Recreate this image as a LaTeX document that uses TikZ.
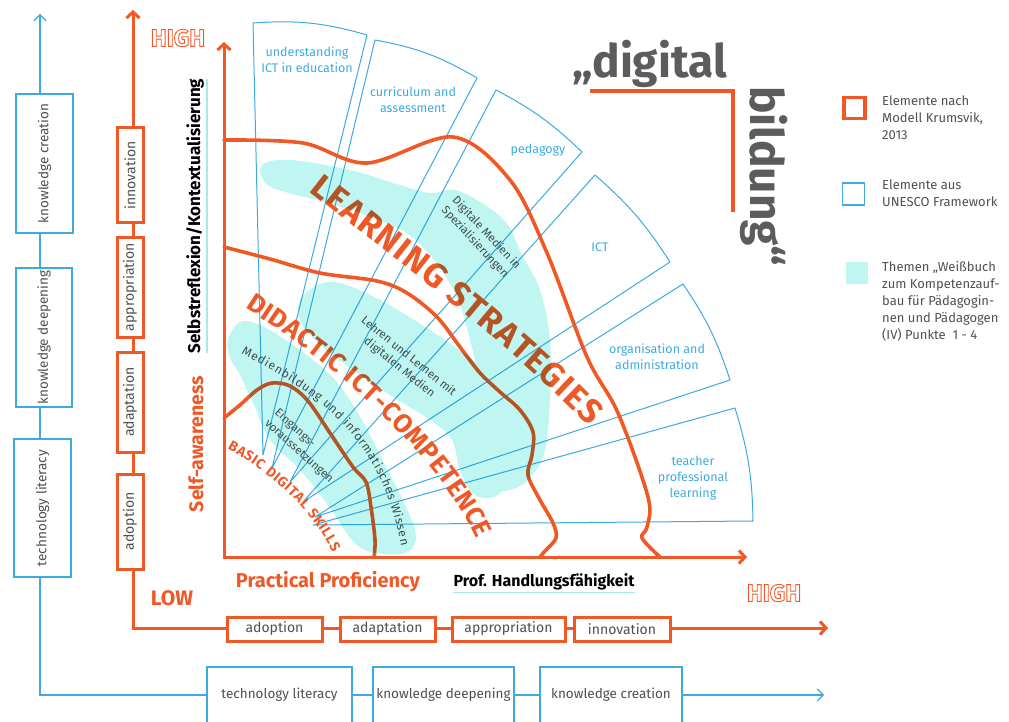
\documentclass[tikz,border=0pt]{standalone}
\usepackage{fontspec}
\setmainfont{Fira Sans}
\usetikzlibrary{arrows.meta,decorations.text,calc}
\definecolor{org}{RGB}{240,88,38}
\definecolor{blu}{RGB}{60,170,225}
\definecolor{cy}{RGB}{192,246,242}
\definecolor{cyl}{RGB}{165,234,240}
\definecolor{gtx}{RGB}{80,80,80}
\definecolor{dg}{RGB}{92,92,92}
\newcommand{\fsz}[1]{\fontsize{#1}{#1}\selectfont}
\newcommand{\outl}[1]{\special{pdf:literal 1 Tr 0.9 w}#1\special{pdf:literal 0 Tr}}
\begin{document}
\begin{tikzpicture}[x=1pt,y=-1pt,
  obox/.style={draw=org, line width=3pt, fill=white, inner sep=0pt, text=gtx, font=\fsz{14}},
  bbox/.style={draw=blu, line width=1.1pt, fill=white, inner sep=0pt, text=gtx, font=\fsz{13.5}},
  oline/.style={draw=org, line width=3pt},
  bline/.style={draw=blu, line width=1.1pt},
  oarr/.style={oline, {Straight Barb[length=6pt,width=13pt]}-{Straight Barb[length=6pt,width=13pt]}},
  barr/.style={bline, {Straight Barb[length=6pt,width=12pt]}-{Straight Barb[length=6pt,width=12pt]}},
  curve/.style={draw=org, line width=3.6pt, line cap=round, line join=round},
  sector/.style={draw=blu, line width=1pt, line join=round},
  blab/.style={text=blu, font=\fontsize{12.5}{16}\selectfont, align=center, inner sep=0pt},
  glab/.style={text=gtx, font=\fontsize{11.5}{14.5}\selectfont, inner sep=0pt},
  leg/.style={text=gtx, font=\fontsize{13}{17}\selectfont, align=left, anchor=north west, inner sep=0pt},
  blob/.style={fill=cy, draw=none}
]
\useasboundingbox (0,0) rectangle (1009,722);

% ---------- blue UNESCO axis ----------
\coordinate (lbT) at (40,14);
\coordinate (lb0) at (40,695);
\coordinate (lbR) at (824,695);
\draw[barr] (lbT) -- (lb0) -- (lbR);
\node[bbox, rotate=90, minimum width=139pt, minimum height=57pt] (kc) at (44.5,163.5) {knowledge creation};
\node[bbox, rotate=90, minimum width=139pt, minimum height=56pt] (kd) at (44,337.5) {knowledge deepening};
\node[bbox, rotate=90, minimum width=138pt, minimum height=57pt] (tl) at (42.5,508) {technology literacy};
\node[bbox, minimum width=145pt, minimum height=56pt] (btl) at (279.5,695) {technology literacy};
\node[bbox, minimum width=141pt, minimum height=56pt] (bkd) at (443.5,695) {knowledge deepening};
\node[bbox, minimum width=142pt, minimum height=56pt] (bkc) at (611,695) {knowledge creation};

% ---------- orange Krumsvik axis ----------
\coordinate (obT) at (133,10);
\coordinate (ob0) at (133,628);
\coordinate (obR) at (828,628);
\draw[oarr] (obT) -- (ob0) -- (obR);
\node[obox, rotate=90, minimum width=95pt, minimum height=26pt] (vin) at (130,175.5) {innovation};
\node[obox, rotate=90, minimum width=100pt, minimum height=26pt] (vap) at (130,287) {appropriation};
\node[obox, rotate=90, minimum width=100pt, minimum height=26pt] (vad) at (130,402) {adaptation};
\node[obox, rotate=90, minimum width=95pt, minimum height=26pt] (vdo) at (130,521.5) {adoption};
\node[obox, minimum width=95pt, minimum height=24pt] (hdo) at (274.5,629) {adoption};
\node[obox, minimum width=95pt, minimum height=24pt] (had) at (387.5,629) {adaptation};
\node[obox, minimum width=113pt, minimum height=24pt] (hap) at (508.5,629) {appropriation};
\node[obox, minimum width=96pt, minimum height=24pt] (hin) at (622,629) {innovation};

\node[font=\bfseries\fsz{24}, text=org, inner sep=0pt] (hi1) at (178,38) {\outl{HIGH}};
\node[font=\bfseries\fsz{24}, text=org, inner sep=0pt] (hi2) at (774,593) {\outl{HIGH}};
\node[font=\bfseries\fsz{21}, text=org, inner sep=0pt] (low) at (172,598) {LOW};

\node[rotate=90, font=\bfseries\fsz{17}, inner sep=0pt] (sk) at (195,216) {Selbstreflexion/Kontextualisierung};
\draw[cyl, line width=1.5pt] ([xshift=3pt]sk.south west) -- ([xshift=3pt]sk.south east);
\node[rotate=90, font=\bfseries\fsz{19.5}, text=org, inner sep=0pt] (sa) at (196,444) {Self-awareness};
\node[font=\bfseries\fsz{20}, text=org, inner sep=0pt] (pp) at (328,582) {Practical Proficiency};
\node[font=\bfseries\fsz{16}, inner sep=0pt] (ph) at (544,582) {Prof. Handlungsfähigkeit};
\draw[cyl, line width=1.5pt] ([yshift=-2pt]ph.south west) -- ([yshift=-2pt]ph.south east);

% ---------- blue sectors ----------
\draw[sector] (263,455) -- (253,23) to[bend left=10] (367,35) -- cycle;
\draw[sector] (272,468) -- (375,40) to[bend left=10] (477,78) -- cycle;
\draw[sector] (290,482) -- (496,90) to[bend left=8] (582,152) -- cycle;
\draw[sector] (303,502) -- (595,175) to[bend left=8] (670,262) -- cycle;
\draw[sector] (315,517) -- (683,284) to[bend left=8] (730,380) -- cycle;
\draw[sector] (313,525) -- (735,408) to[bend left=8] (753,521) -- cycle;
\node[blab] (l1) at (307,60) {understanding\\ICT in education};
\node[blab] (l2) at (413,100) {curriculum and\\assessment};
\node[blab] (l3) at (538,150) {pedagogy};
\node[blab] (l4) at (600,247) {ICT};
\node[blab] (l5) at (657,357) {organisation and\\administration};
\node[blab] (l6) at (693,478) {teacher\\professional\\learning};

% ---------- inner frame & curves ----------
\coordinate (iT) at (224,42);
\coordinate (i0) at (224,557);
\coordinate (iR) at (747,557);
\draw[oarr] (iT) -- (i0) -- (iR);
\draw[curve] plot[smooth, tension=0.55] coordinates {(224,140) (303,143) (367,163) (453,137) (510,180) (547,253) (587,357) (618,413) (648,497) (647,527) (642,538) (660,557)};
\draw[curve] plot[smooth, tension=0.55] coordinates {(224,247) (270,259) (320,273) (377,281) (407,293) (437,317) (460,347) (480,373) (500,392) (520,410) (533,432) (532,455) (528,475) (540,500) (553,523) (556,538) (545,551) (540,557)};
\draw[curve] plot[smooth, tension=0.55] coordinates {(224,418) (240,405) (257,390) (272,383) (290,386) (308,401) (330,433) (353,467) (366,482) (371,507) (375,540) (374,557)};

% ---------- big labels ----------
\path[decorate, decoration={text along path, text={|\bfseries\fsz{34}|LEARNING STRATEGIES}, text color=org, text align={fit to path}, raise=-11.5pt}]
  (316,182) .. controls (405,252) and (518,336) .. (597,418);
\path[decorate, decoration={text along path, text={|\bfseries\fsz{26}|DIDACTIC ICT-COMPETENCE}, text color=org, text align={fit to path}, raise=-9pt}]
  (250,300) .. controls (330,350) and (440,440) .. (485,535);
\path[decorate, decoration={text along path, text={|\bfseries\fsz{14}|BASIC DIGITAL SKILLS}, text color=org, text align={fit to path}, raise=-5pt}]
  (230,444) .. controls (268,466) and (314,502) .. (337,550);
\path[decorate, decoration={text along path, text={|\fsz{12}|Medienbildung und informatisches Wissen}, text color=gtx, text align={fit to path}, raise=-4pt}]
  (243,350) .. controls (330,395) and (385,440) .. (405,545);
\node[glab, rotate=-47, align=left] (g1) at (481,238) {Digitale Medien in\\Spezialisierungen};
\node[glab, rotate=-39, align=center] (g2) at (404,362) {Lehren und Lernen mit\\digitalen Medien};
\node[glab, rotate=-42, align=left] (g3) at (304,446) {Eingangs-\\voraussetzungen};

% ---------- cyan theme blobs (one fill, multiply) ----------
\begin{scope}[blend mode=multiply]
\fill[blob]
  plot[smooth cycle, tension=0.6] coordinates {(262,165) (290,160) (350,170) (400,185) (430,193) (455,190) (485,205) (508,225) (522,255) (540,290) (550,340) (550,400) (545,450) (530,478) (510,490) (490,488) (478,470) (476,430) (478,380) (470,340) (460,305) (448,280) (430,255) (405,232) (365,215) (325,202) (285,192) (265,183)}
  plot[smooth cycle, tension=0.6] coordinates {(300,300) (318,285) (340,283) (380,300) (430,330) (470,358) (500,385) (510,420) (510,470) (498,495) (475,495) (460,470) (452,440) (430,420) (390,395) (350,368) (315,340) (300,320)}
  plot[smooth cycle, tension=0.6] coordinates {(228,340) (240,322) (262,326) (300,350) (335,380) (362,420) (385,465) (405,505) (416,535) (408,552) (385,554) (365,550) (350,538) (328,505) (300,470) (270,440) (254,405) (240,375) (230,358)};
\end{scope}

% ---------- digital bildung ----------
\node[anchor=base west, inner sep=0pt, font=\bfseries\fsz{46}, text=dg] (dig) at (572,78) {„digital};
\node[anchor=base west, rotate=-90, inner sep=0pt, font=\bfseries\fsz{46}, text=dg] (bil) at (750,86) {bildung“};
\coordinate (d1) at (590,91);
\coordinate (d2) at (733,91);
\coordinate (d3) at (733,212);
\draw[oline, line width=3.5pt] (d1) -- (d2) -- (d3);

% ---------- legend ----------
\node[draw=org, line width=3.5pt, minimum size=21pt, inner sep=0pt] (lg1) at (854.5,108) {};
\node[draw=blu, line width=1.2pt, minimum size=22pt, inner sep=0pt] (lg2) at (853.5,194) {};
\node[fill=cy, minimum size=22pt, inner sep=0pt] (lg3) at (857,272.5) {};
\node[leg] (lt1) at (882,96) {Elemente nach\\Modell Krumsvik,\\2013};
\node[leg] (lt2) at (882,180) {Elemente aus\\UNESCO Framework};
\node[leg] (lt3) at (882,261) {Themen „Weißbuch\\zum Kompetenzauf-\\bau für Pädagogin-\\nen und Pädagogen\\(IV) Punkte~~1 - 4};
\end{tikzpicture}
\end{document}
